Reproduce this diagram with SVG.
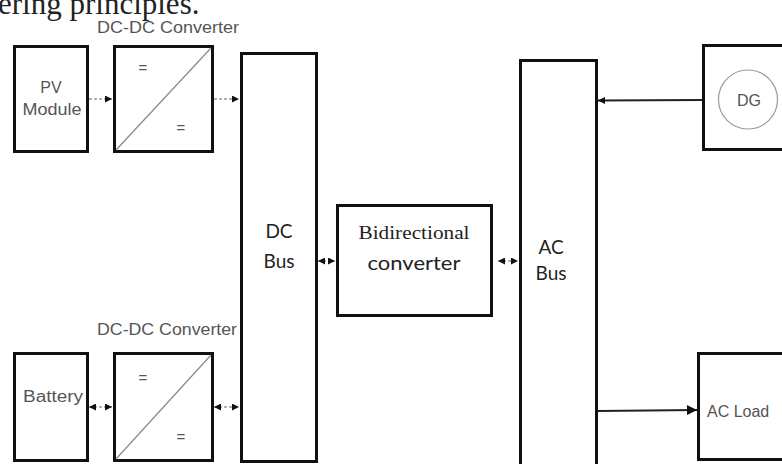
<svg xmlns="http://www.w3.org/2000/svg" width="782" height="464" viewBox="0 0 782 464">
<style>
.box{fill:#fff;stroke:#111;stroke-width:3}
.lbl{font-family:"Liberation Sans",Arial,sans-serif;font-size:16px;fill:#555}
.cal{font-family:Lato,"Liberation Sans",sans-serif;font-size:19px;fill:#222}
.ser{font-family:"Liberation Serif","Times New Roman",serif;fill:#222}
.diag{stroke:#888;stroke-width:1.2}
.dash{stroke:#999;stroke-width:1.5;stroke-dasharray:3 2;fill:none}
.eq{font-family:"Liberation Sans",Arial,sans-serif;font-size:15px;fill:#555}
</style>
<defs>
<marker id="ah" viewBox="0 0 7 7" refX="7" refY="3.5" markerWidth="7" markerHeight="7" orient="auto" markerUnits="userSpaceOnUse">
<path d="M0,0 L7,3.5 L0,7 z" fill="#111"/>
</marker>
<marker id="ahs" viewBox="0 0 7 7" refX="0" refY="3.5" markerWidth="7" markerHeight="7" orient="auto" markerUnits="userSpaceOnUse">
<path d="M7,0 L0,3.5 L7,7 z" fill="#111"/>
</marker>
<marker id="big" viewBox="0 0 10 10" refX="10" refY="5" markerWidth="12" markerHeight="10" orient="auto" markerUnits="userSpaceOnUse">
<path d="M0,0 L10,5 L0,10 z" fill="#111"/>
</marker>
</defs>
<text class="ser" x="-2" y="14" font-size="31">ering principles.</text>

<g id="pv">
<rect class="box" x="14.5" y="46.5" width="73" height="105"/>
<text class="lbl" x="51" y="93" text-anchor="middle" font-size="17">PV</text>
<text class="lbl" x="52" y="115" text-anchor="middle" font-size="17" textLength="59" lengthAdjust="spacingAndGlyphs">Module</text>
</g>
<g id="conv1">
<text class="lbl" x="168" y="33" text-anchor="middle" font-size="15" textLength="142" lengthAdjust="spacingAndGlyphs">DC-DC Converter</text>
<rect class="box" x="114.5" y="46.5" width="98" height="105"/>
<line class="diag" x1="116" y1="150" x2="211" y2="48"/>
<text class="eq" x="143" y="73" text-anchor="middle">=</text>
<text class="eq" x="181" y="133" text-anchor="middle">=</text>
</g>
<g id="battery">
<rect class="box" x="14.5" y="353.5" width="73" height="107"/>
<text class="lbl" x="53" y="402" text-anchor="middle" font-size="17" textLength="60" lengthAdjust="spacingAndGlyphs">Battery</text>
</g>
<g id="conv2">
<text class="lbl" x="167" y="335" text-anchor="middle" font-size="15" textLength="140" lengthAdjust="spacingAndGlyphs">DC-DC Converter</text>
<rect class="box" x="114.5" y="353.5" width="98" height="107"/>
<line class="diag" x1="116" y1="459" x2="211" y2="355"/>
<text class="eq" x="143" y="383" text-anchor="middle">=</text>
<text class="eq" x="181" y="442" text-anchor="middle">=</text>
</g>
<g id="dcbus">
<rect class="box" x="241.5" y="53.5" width="75" height="408"/>
<text class="cal" x="279" y="238" text-anchor="middle">DC</text>
<text class="cal" x="279" y="268" text-anchor="middle">Bus</text>
</g>
<g id="bidir">
<rect class="box" x="337.5" y="205.5" width="154" height="110"/>
<text class="ser" x="414" y="239" text-anchor="middle" font-size="19" textLength="111" lengthAdjust="spacingAndGlyphs">Bidirectional</text>
<text class="cal" x="414" y="270" text-anchor="middle" textLength="93" lengthAdjust="spacingAndGlyphs">converter</text>
</g>
<g id="acbus">
<path class="box" d="M520.5,470 V60.5 H596.5 V470"/>
<text class="cal" x="551" y="254" text-anchor="middle">AC</text>
<text class="cal" x="551" y="280" text-anchor="middle">Bus</text>
</g>
<g id="dg">
<rect class="box" x="703.5" y="45.5" width="90" height="104"/>
<circle cx="748" cy="99.5" r="29.5" fill="none" stroke="#999" stroke-width="1.2"/>
<text class="lbl" x="749" y="106" text-anchor="middle" font-size="17">DG</text>
</g>
<g id="acload">
<rect class="box" x="698.5" y="353.5" width="95" height="106"/>
<text class="lbl" x="707" y="417" font-size="18">AC Load</text>
</g>
<g id="connectors">
<line class="dash" x1="89" y1="99" x2="112" y2="99" marker-end="url(#ah)"/>
<line class="dash" x1="214" y1="99" x2="239" y2="99" marker-end="url(#ah)"/>
<line class="dash" x1="89" y1="407" x2="112" y2="407" marker-start="url(#ahs)" marker-end="url(#ah)"/>
<line class="dash" x1="214" y1="407" x2="239" y2="407" marker-start="url(#ahs)" marker-end="url(#ah)"/>
<line class="dash" x1="318" y1="261" x2="335" y2="261" marker-start="url(#ahs)" marker-end="url(#ah)"/>
<line class="dash" x1="498" y1="261" x2="518" y2="261" marker-start="url(#ahs)" marker-end="url(#ah)"/>
<line x1="702" y1="100" x2="598" y2="100.5" stroke="#222" stroke-width="2" marker-end="url(#ah)"/>
<line x1="598" y1="411" x2="697" y2="410" stroke="#222" stroke-width="2" marker-end="url(#big)"/>
</g>
</svg>
